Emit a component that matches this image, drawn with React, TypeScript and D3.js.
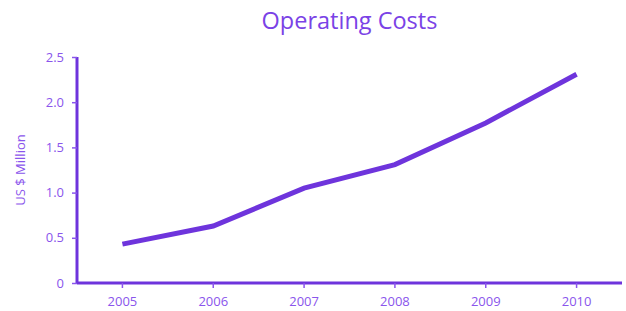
import * as d3 from "d3";
import { useEffect, useRef } from "react";

const years = ["2005", "2006", "2007", "2008", "2009", "2010"];
const costs = [0.43, 0.63, 1.05, 1.31, 1.77, 2.31];
const yTicks = [0, 0.5, 1.0, 1.5, 2.0, 2.5];

const App = () => {
  const svgRef = useRef<SVGSVGElement>(null);

  useEffect(() => {
    const w = 626;
    const h = 311;
    const m = { top: 57, right: 4, bottom: 28, left: 77 };
    const lineColor = "#6e34dc";
    const textColor = "#8a55ec";
    const font = "'Open Sans', 'Noto Sans', sans-serif";

    const svg = d3.select(svgRef.current).attr("width", w).attr("height", h);
    svg.selectAll("*").remove();

    // scales
    const xScale = d3
      .scaleBand()
      .domain(years)
      .range([m.left, w - m.right]);
    const yScale = d3
      .scaleLinear()
      .domain([0, 2.5])
      .range([h - m.bottom, m.top]);

    // title
    svg
      .append("text")
      .attr("x", (m.left + w - m.right) / 2)
      .attr("y", 29)
      .attr("text-anchor", "middle")
      .attr("font-family", font)
      .attr("font-size", 23.5)
      .attr("fill", "#7a42e6")
      .text("Operating Costs");

    // y axis
    const yAxis = d3
      .axisLeft(yScale)
      .tickValues(yTicks)
      .tickFormat((d) => (d === 0 ? "0" : d3.format(".1f")(d as number)))
      .tickSize(5)
      .tickPadding(8);
    const gy = svg
      .append("g")
      .attr("transform", `translate(${m.left},0)`)
      .call(yAxis);
    gy.select(".domain")
      .attr("stroke", lineColor)
      .attr("stroke-width", 3)
      .attr("d", `M0,${yScale(2.5)}V${yScale(0)}`);
    gy.selectAll(".tick line").attr("stroke", textColor).attr("stroke-width", 1.5);
    gy.selectAll(".tick text")
      .attr("fill", textColor)
      .attr("font-family", font)
      .attr("font-size", 13);

    // x axis
    const xAxis = d3.axisBottom(xScale).tickSize(5).tickPadding(9);
    const gx = svg
      .append("g")
      .attr("transform", `translate(0,${h - m.bottom})`)
      .call(xAxis);
    gx.select(".domain")
      .attr("stroke", lineColor)
      .attr("stroke-width", 3)
      .attr("d", `M${m.left},0H${w - m.right}`);
    gx.selectAll(".tick line").attr("stroke", textColor).attr("stroke-width", 1.5);
    gx.selectAll(".tick text")
      .attr("fill", textColor)
      .attr("font-family", font)
      .attr("font-size", 13);

    // y label
    svg
      .append("text")
      .attr("transform", `translate(25,${(yScale(0) + yScale(2.5)) / 2}) rotate(-90)`)
      .attr("text-anchor", "middle")
      .attr("font-family", font)
      .attr("font-size", 13)
      .attr("fill", textColor)
      .text("US $ Million");

    // line
    const line = d3
      .line<number>()
      .x((d, i) => (xScale(years[i]) as number) + xScale.bandwidth() / 2)
      .y((d) => yScale(d));
    svg
      .append("path")
      .datum(costs)
      .attr("fill", "none")
      .attr("stroke", lineColor)
      .attr("stroke-width", 5)
      .attr("d", line);
  }, []);

  return (
    <div style={{ position: "absolute", left: 0, top: 0 }}>
      <svg ref={svgRef}></svg>
    </div>
  );
};

export default App;
